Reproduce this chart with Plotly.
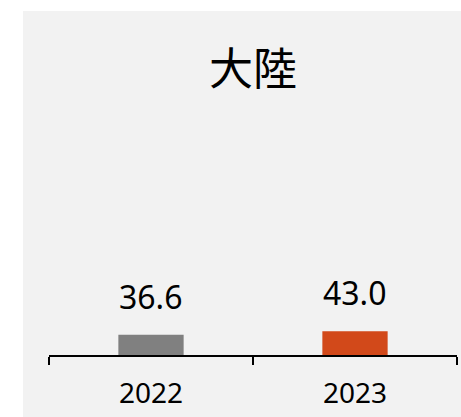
import plotly.graph_objects as go

title = "大陸"
years = ["2022", "2023"]
values = [36.6, 43.0]
colors = ["#808080", "#D2491A"]

L, R, T, B = 49, 4, 11, 62
W, H = 461, 417
plot_w = W - L - R
plot_h = H - T - B

xpos = list(range(len(years)))
bounds = [i - 0.5 for i in range(len(years) + 1)]

fig = go.Figure()
fig.add_trace(go.Bar(
    x=xpos, y=values, marker=dict(color=colors, line=dict(width=0)),
    width=0.32, hoverinfo="skip",
))

for x, v in zip(xpos, values):
    fig.add_annotation(
        x=x, y=v, xref="x", yref="y", text=f"{v:.1f}", showarrow=False,
        yanchor="bottom", yshift=15,
        font=dict(size=32, color="#000000", family="Noto Sans"),
    )

fig.add_annotation(
    x=0.5, y=(H - 66 - B) / plot_h, xref="paper", yref="paper", text=title,
    showarrow=False, yanchor="middle",
    font=dict(size=44, color="#000000", family="Noto Sans CJK TC"),
)

fig.add_shape(
    type="rect", xref="paper", yref="paper",
    x0=(23 - L) / plot_w, x1=(W - L + 2) / plot_w,
    y0=-(B + 2) / plot_h, y1=1.0,
    fillcolor="#F2F2F2", line=dict(width=0), layer="below",
)

fig.update_layout(
    width=W, height=H, autosize=False,
    margin=dict(l=L, r=R, t=T, b=B, pad=0),
    paper_bgcolor="#FFFFFF", plot_bgcolor="rgba(0,0,0,0)",
    showlegend=False,
    font=dict(family="Noto Sans, Noto Sans CJK TC", color="#000000"),
)
fig.update_xaxes(
    range=[bounds[0], bounds[-1]], showline=True, linecolor="#000000", linewidth=2,
    tickmode="array", tickvals=xpos, ticktext=years, ticks="", ticklabelstandoff=12,
    tickfont=dict(size=28, color="#000000"),
    minor=dict(tickmode="array", tickvals=bounds, ticks="outside", ticklen=8,
               tickwidth=1.5, tickcolor="#000000", showgrid=False),
    showgrid=False, zeroline=False, fixedrange=True,
)
fig.update_yaxes(
    range=[0, 623], visible=False, showgrid=False, zeroline=False, fixedrange=True,
)

fig.write_html(
    "out.html",
    config={"displayModeBar": False, "responsive": False},
    post_script="document.body.style.margin='0';document.body.style.overflow='hidden';",
)
